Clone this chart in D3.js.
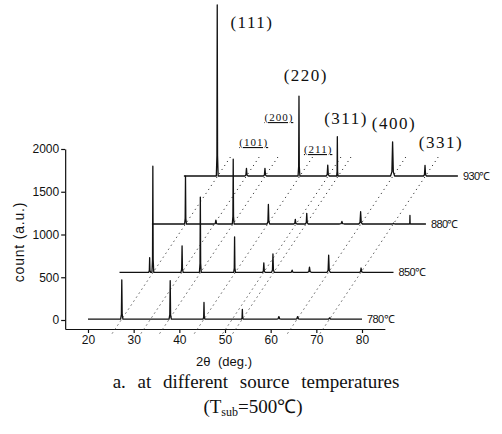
<!DOCTYPE html>
<html>
<head>
<meta charset="utf-8">
<script src="https://cdn.jsdelivr.net/npm/d3@7"></script>
<style>
  body { margin: 0; background: #fff; }
  text { fill: #111; }
</style>
</head>
<body>
<script>
// traces, bottom to top
const temps = ["780℃", "850℃", "880℃", "930℃"];
const shiftTheta = [0, 6.9, 14, 21];          // waterfall shift along 2θ
const baseCount = [10, 558, 1123, 1684];      // baseline of each trace

// peaks: [2θ, height above baseline, half width]
const peaks780 = [[27.4, 460, .25], [38.0, 450, .25], [45.4, 195, .2], [53.8, 115, .2],
                  [61.8, 30, .5], [65.9, 30, .5], [72.9, 15, .5]];
const peaks850 = [[26.6, 170, .2], [27.3, 1240, .2], [33.7, 310, .25], [37.7, 880, .2],
                  [45.2, 415, .2], [51.6, 110, .3], [53.6, 215, .3], [57.8, 25, .4],
                  [61.6, 60, .4], [65.8, 200, .35], [72.9, 50, .4]];
const peaks880 = [[27.35, 560, .2], [34.0, 45, .4], [37.8, 757, .2], [45.5, 228, .3],
                  [51.4, 55, .35], [53.9, 125, .3], [61.6, 30, .5], [65.7, 144, .4],
                  [72.9, 10, .4], [76.5, 99, .1]];
const peaks930 = [[27.3, 2000, .2], [33.7, 90, .35], [37.75, 90, .35], [45.2, 935, .2],
                  [51.5, 128, .35], [53.6, 460, .15], [65.7, 400, .45], [72.8, 125, .35]];
const peaks = [peaks780, peaks850, peaks880, peaks930];

// dotted guides following each reflection through the stack
const guideTheta = [27.4, 33.7, 37.8, 45.4, 51.6, 53.8, 65.8, 72.9];
const guideStep = [7, 558];

const bigLabels = ["(111)", "(220)", "(311)", "(400)", "(331)"];
const bigPos = [[55.9, 3415], [67.7, 2795], [76.5, 2292], [87.0, 2234], [97.3, 2012]];
const smallLabels = ["(101)", "(200)", "(211)"];
const smallPos = [[56.3, 2035], [61.8, 2327], [70.4, 1953]];

const xTicks = [20, 30, 40, 50, 60, 70, 80];
const yTicks = [0, 500, 1000, 1500, 2000];

const W = 502, H = 434;
const svg = d3.select("body").append("svg")
    .attr("width", W)
    .attr("height", H)
    .style("background", "#fff");

const x = d3.scaleLinear().domain([20, 80]).range([88, 362]);
const y = d3.scaleLinear().domain([0, 2000]).range([320, 149]);

// axes span a bit wider than the tick range
const xAxisScale = x.copy().domain([15, 85]).range([x(15), x(85)]);
const yAxisScale = y.copy().domain([-105, 2000]).range([y(-105), y(2000)]);

const gx = svg.append("g")
    .attr("transform", `translate(0,${y(-105)})`)
    .call(d3.axisBottom(xAxisScale).tickValues(xTicks).tickSize(4).tickSizeOuter(0));
const gy = svg.append("g")
    .attr("transform", `translate(${x(15)},0)`)
    .call(d3.axisLeft(yAxisScale).tickValues(yTicks).tickFormat(d3.format("d"))
      .tickSize(4).tickSizeOuter(0).tickPadding(2));
[gx, gy].forEach(g => {
  g.selectAll("path, line").attr("stroke", "#111").attr("stroke-width", 1.2);
  g.selectAll("text").attr("font-family", "Liberation Sans, Arial, sans-serif")
    .attr("font-size", 12).attr("fill", "#222");
});

// guides
const line = d3.line().x(d => x(d[0])).y(d => y(d[1]));
svg.append("g")
  .selectAll("path")
  .data(guideTheta)
  .enter()
  .append("path")
    .attr("d", t => line([[t - 0.3 * guideStep[0], baseCount[0] - 0.3 * guideStep[1]],
                          [t + 3.45 * guideStep[0], baseCount[0] + 3.45 * guideStep[1]]]))
    .attr("fill", "none")
    .attr("stroke", "#333")
    .attr("stroke-width", 1)
    .attr("stroke-dasharray", "1.2,3.6");

// traces
function tracePoints(pk, i) {
  const s = shiftTheta[i], b = baseCount[i];
  const pts = [[20 + s, b]];
  pk.forEach(([t, h, w]) => {
    pts.push([t - w + s, b], [t - w * 0.35 + s, b + h * 0.12], [t + s, b + h],
             [t + w * 0.35 + s, b + h * 0.12], [t + w + s, b]);
  });
  pts.push([80 + s, b]);
  return pts;
}

svg.append("g")
  .selectAll("path")
  .data(peaks)
  .enter()
  .append("path")
    .attr("d", (pk, i) => line(tracePoints(pk, i)))
    .attr("fill", "none")
    .attr("stroke", "#111")
    .attr("stroke-width", 1.3)
    .attr("stroke-linejoin", "round");

svg.append("g")
  .selectAll("text")
  .data(temps)
  .enter()
  .append("text")
    .attr("x", (d, i) => x(80 + shiftTheta[i]) + 5)
    .attr("y", (d, i) => y(baseCount[i]))
    .attr("dy", "0.35em")
    .attr("font-family", "Liberation Sans, Arial, sans-serif")
    .attr("font-size", 11)
    .attr("letter-spacing", -0.6)
    .text(d => d);

// reflection labels
svg.append("g")
  .selectAll("text")
  .data(bigLabels)
  .enter()
  .append("text")
    .attr("x", (d, i) => x(bigPos[i][0]))
    .attr("y", (d, i) => y(bigPos[i][1]))
    .attr("text-anchor", "middle")
    .attr("font-family", "Liberation Serif, Times New Roman, serif")
    .attr("font-size", 17)
    .attr("letter-spacing", 1.5)
    .text(d => d);

svg.append("g")
  .selectAll("text")
  .data(smallLabels)
  .enter()
  .append("text")
    .attr("x", (d, i) => x(smallPos[i][0]))
    .attr("y", (d, i) => y(smallPos[i][1]))
    .attr("text-anchor", "middle")
    .attr("font-family", "Liberation Serif, Times New Roman, serif")
    .attr("font-size", 11)
    .attr("letter-spacing", 1)
    .style("text-decoration", "underline")
    .text(d => d);

// axis titles
svg.append("text")
    .attr("transform", "translate(24,242) rotate(-90)")
    .attr("text-anchor", "middle")
    .attr("font-family", "Liberation Sans, Arial, sans-serif")
    .attr("font-size", 14)
    .attr("letter-spacing", 0.8)
    .text("count (a.u.)");

svg.append("text")
    .attr("x", 224)
    .attr("y", 366)
    .attr("text-anchor", "middle")
    .attr("font-family", "Liberation Sans, Arial, sans-serif")
    .attr("font-size", 13)
    .attr("word-spacing", 4)
    .text("2θ (deg.)");

// caption
svg.append("text")
    .attr("x", 256)
    .attr("y", 388)
    .attr("text-anchor", "middle")
    .attr("font-family", "Liberation Serif, Times New Roman, serif")
    .attr("font-size", 19)
    .attr("word-spacing", 7)
    .text("a. at different source temperatures");

const cap2 = svg.append("text")
    .attr("x", 253)
    .attr("y", 413)
    .attr("text-anchor", "middle")
    .attr("font-family", "Liberation Serif, Times New Roman, serif")
    .attr("font-size", 19);
cap2.append("tspan").text("(T");
cap2.append("tspan").attr("font-size", 12).attr("dy", 3).text("sub");
cap2.append("tspan").attr("dy", -3).text("=500℃)");
</script>
</body>
</html>
